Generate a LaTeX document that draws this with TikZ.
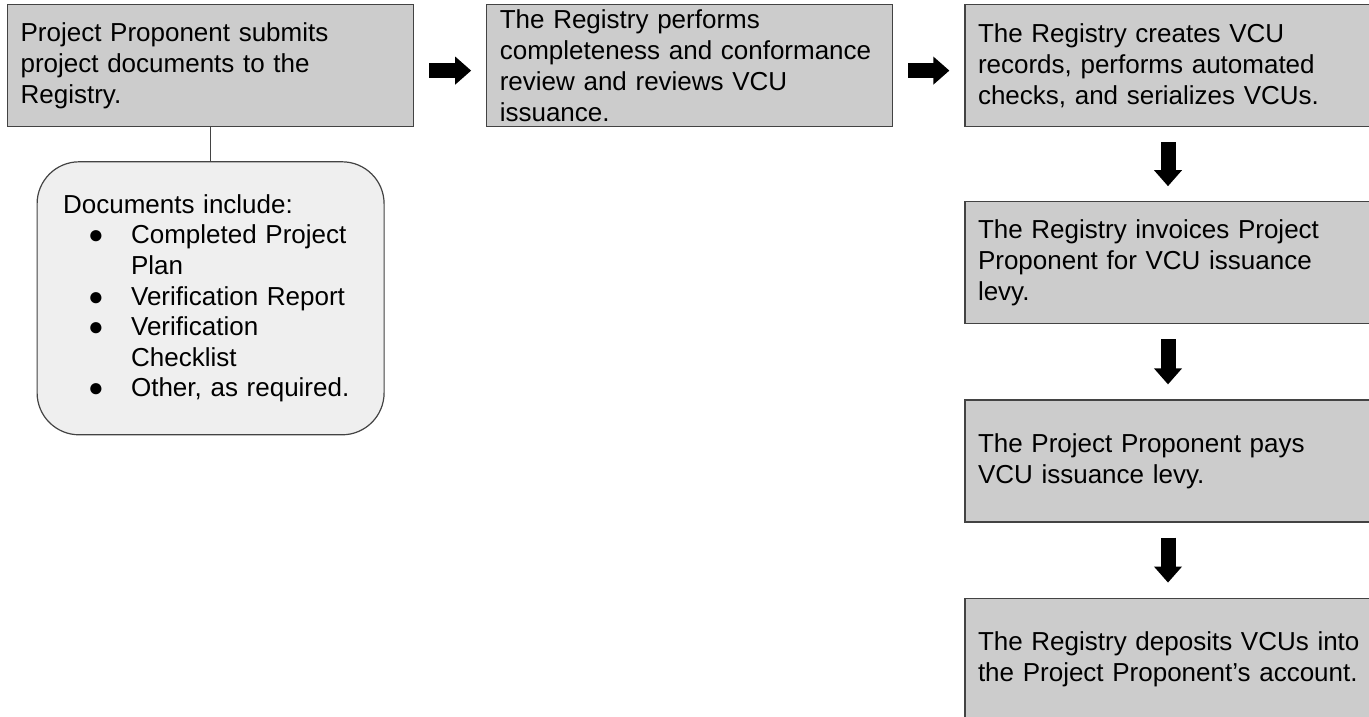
\documentclass[tikz,border=0pt]{standalone}
\usepackage{fontspec}
\setmainfont{Liberation Sans}
\usepackage{tikz}
\usetikzlibrary{positioning}
\usetikzlibrary{arrows.meta}

\definecolor{boxfill}{HTML}{CCCCCC}
\definecolor{docfill}{HTML}{EFEFEF}
\definecolor{boxline}{HTML}{434343}
\newcommand{\bul}{\makebox[68pt][l]{\hspace*{25pt}●}}
\newcommand{\nobul}{\hspace*{68pt}}

\tikzset{stepbox/.style={draw=boxline, fill=boxfill, line width=1.2pt, text width=380pt, inner xsep=13pt, inner ysep=0pt, minimum height=122pt, align=left, font=\fontsize{26}{30.8}\selectfont}}
\tikzset{docbox/.style={draw=boxline, fill=docfill, line width=1.2pt, rounded corners=42pt, text width=295pt, inner xsep=26pt, inner ysep=0pt, minimum height=273pt, align=left, font=\fontsize{26}{30.6}\selectfont}}
\tikzset{blockarrow/.style={line width=15pt, -{Triangle[width=27pt,length=16pt]}, shorten <=15pt, shorten >=15pt}}

\begin{document}
\begin{tikzpicture}[x=1pt,y=1pt]
\clip (0,0) rectangle (1369,-717);
\node[stepbox, anchor=north west] (submit) at (7,-4) {Project Proponent submits\\project documents to the\\Registry.};
\node[stepbox, right=72pt of submit] (review) {The Registry performs\\\mbox{completeness and conformance}\\review and reviews VCU\\issuance.};
\node[stepbox, right=71pt of review] (create) {The Registry creates VCU\\records, performs automated\\\mbox{checks, and serializes VCUs.}};
\node[stepbox, below=74pt of create] (invoice) {The Registry invoices Project\\Proponent for VCU issuance\\levy.};
\node[stepbox, below=75pt of invoice] (pay) {The Project Proponent pays\\VCU issuance levy.};
\node[stepbox, below=75pt of pay] (deposit) {\mbox{The Registry deposits VCUs into}\\\mbox{the Project Proponent's account.}};
\node[docbox, below=34pt of submit] (docs) {Documents include:\\
\bul Completed Project\\
\nobul Plan\\
\bul Verification Report\\
\bul Verification\\
\nobul Checklist\\
\bul Other, as required.};
\draw[boxline, line width=1.2pt] (submit) -- (docs);
\draw[blockarrow] ([yshift=-5pt]submit.east) -- ([yshift=-5pt]review.west);
\draw[blockarrow] ([yshift=-5pt]review.east) -- ([yshift=-5pt]create.west);
\draw[blockarrow] (create) -- (invoice);
\draw[blockarrow] (invoice) -- (pay);
\draw[blockarrow] (pay) -- (deposit);
\end{tikzpicture}
\end{document}
